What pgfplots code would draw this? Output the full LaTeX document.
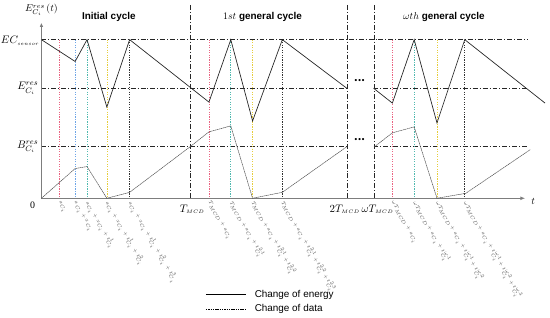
\documentclass[border=0pt]{standalone}
\usepackage{amsmath}
\usepackage{pgfplots}
\pgfplotsset{compat=1.18}
\usepackage{fontspec}
\setmainfont{Liberation Serif}
\newfontfamily\sans{Liberation Sans}
\usetikzlibrary{arrows.meta}
\definecolor{cred}{RGB}{235,100,130}
\definecolor{cblue}{RGB}{110,165,230}
\definecolor{cteal}{RGB}{80,185,175}
\definecolor{cyel}{RGB}{230,205,60}
\definecolor{axgray}{RGB}{125,125,125}
\tikzset{dd/.style={black!85, line width=0.5pt, dash pattern=on 5pt off 2pt on 1pt off 2pt},
  vd/.style={line width=0.6pt, dash pattern=on 1.2pt off 1.3pt},
  rl/.style={anchor=west, rotate=-60, inner sep=0.5pt, font=\fontsize{5.5}{6}\selectfont, text=black!70}}
\begin{document}
\begin{tikzpicture}
\begin{axis}[hide axis, scale only axis, width=550pt, height=320pt,
  xmin=0, xmax=550, ymin=0, ymax=320, y dir=reverse, clip=false]
\path (axis cs:0,0) rectangle (axis cs:550,320);
% reference lines
\addplot[dd] coordinates {(37,40) (528,40)};
\addplot[dd] coordinates {(37,89) (345,89)};
\addplot[dd] coordinates {(372,89) (528,89)};
\addplot[dd] coordinates {(37,148) (345,148)};
\addplot[dd] coordinates {(372,148) (528,148)};
\addplot[dd] coordinates {(187,5) (187,200)};
\addplot[dd] coordinates {(345,5) (345,200)};
\addplot[dd] coordinates {(373,5) (373,200)};
% coloured markers
\addplot[vd, cred] coordinates {(55,40) (55,200)};
\addplot[vd, cblue] coordinates {(71,40) (71,200)};
\addplot[vd, cteal] coordinates {(83,40) (83,200)};
\addplot[vd, cyel] coordinates {(103,40) (103,200)};
\addplot[vd, black!80] coordinates {(126,40) (126,200)};
\addplot[vd, cred] coordinates {(206,40) (206,200)};
\addplot[vd, cteal] coordinates {(228,40) (228,200)};
\addplot[vd, cyel] coordinates {(250,40) (250,200)};
\addplot[vd, black!80] coordinates {(280,40) (280,200)};
\addplot[vd, cred] coordinates {(391,40) (391,200)};
\addplot[vd, cteal] coordinates {(413,40) (413,200)};
\addplot[vd, cyel] coordinates {(436,40) (436,200)};
\addplot[vd, black!80] coordinates {(464,40) (464,200)};
% axes
\addplot[axgray, line width=1.3pt, -{Latex[length=4pt,width=3.5pt]}] coordinates {(37,200) (37,23)};
\addplot[axgray, line width=1.3pt, -{Latex[length=5pt,width=4pt]}] coordinates {(37,200) (525,200)};
% energy
\addplot[black!85, line width=0.7pt] coordinates {(37,40) (71,62) (83,40) (103,108) (126,40) (206,103) (228,40) (250,122) (280,40) (345,89)};
\addplot[black!85, line width=0.7pt] coordinates {(372,89) (391,104) (413,40) (436,124) (464,40) (545,104)};
% data
\addplot[black!70, line width=0.5pt, dash pattern=on 1.5pt off 0.5pt] coordinates {(37,200) (71,170) (83,168) (103,200) (126,194) (187,148) (206,133) (228,127) (250,200) (280,194) (345,148)};
\addplot[black!70, line width=0.5pt, dash pattern=on 1.5pt off 0.5pt] coordinates {(373,148) (391,134) (413,128) (436,200) (465,195) (530,151)};
% legend
\addplot[black, line width=0.7pt] coordinates {(203,297) (243,297)};
\addplot[black, line width=0.6pt, dash pattern=on 1.5pt off 0.8pt] coordinates {(203,312) (243,312)};
\node[anchor=west, inner sep=1pt, font=\sans\fontsize{10}{12}\selectfont] at (axis cs:251,297) {Change of energy};
\node[anchor=west, inner sep=1pt, font=\sans\fontsize{10}{12}\selectfont] at (axis cs:251,312) {Change of data};
% titles
\node[font=\sans\bfseries\fontsize{10}{12}\selectfont] at (axis cs:105,17) {Initial cycle};
\node[font=\sans\bfseries\fontsize{10}{12}\selectfont] at (axis cs:260,17) {$1st$ general cycle};
\node[font=\sans\bfseries\fontsize{10}{12}\selectfont] at (axis cs:443,17) {$\omega th$ general cycle};
% axis labels
\node[font=\fontsize{10}{12}\selectfont] at (axis cs:37,10) {$E^{res}_{C_i}\,(t)$};
\node[anchor=east, inner sep=1pt, font=\fontsize{11}{12}\selectfont] at (axis cs:36,41) {$EC_{\scriptscriptstyle sensor}$};
\node[anchor=east, inner sep=1pt, font=\fontsize{11}{12}\selectfont] at (axis cs:35,89) {$E^{res}_{C_i}$};
\node[anchor=east, inner sep=1pt, font=\fontsize{11}{12}\selectfont] at (axis cs:35,148) {$B^{res}_{C_i}$};
\node[font=\fontsize{10}{12}\selectfont] at (axis cs:28,207) {0};
\node[font=\fontsize{11}{12}\selectfont] at (axis cs:189,211) {$T_{\scriptscriptstyle MCD}$};
\node[font=\fontsize{11}{12}\selectfont] at (axis cs:343,211) {$2T_{\scriptscriptstyle MCD}$};
\node[font=\fontsize{11}{12}\selectfont] at (axis cs:376,211) {$\omega T_{\scriptscriptstyle MCD}$};
\node[font=\fontsize{10}{12}\selectfont] at (axis cs:533,203) {$t$};
% dots
\node[font=\fontsize{9}{10}\selectfont] at (axis cs:358,82) {\textbullet\kern0.5pt\textbullet\kern0.5pt\textbullet};
\node[font=\fontsize{9}{10}\selectfont] at (axis cs:358,142) {\textbullet\kern0.5pt\textbullet\kern0.5pt\textbullet};
% rotated tick labels
\node[rl] at (axis cs:54,203) {$a_{C_i}$};
\node[rl] at (axis cs:70,203) {$a_{C_i}+x_{C_i}$};
\node[rl] at (axis cs:82,203) {$a_{C_i}+x_{C_i}+t^{1}_{C_i}$};
\node[rl] at (axis cs:102,203) {$a_{C_i}+x_{C_i}+t^{1}_{C_i}+t^{2}_{C_i}$};
\node[rl] at (axis cs:125,203) {$a_{C_i}+x_{C_i}+t^{1}_{C_i}+t^{2}_{C_i}+t^{3}_{C_i}$};
\node[rl] at (axis cs:205,203) {$T_{MCD}+a_{C_i}$};
\node[rl] at (axis cs:227,203) {$T_{MCD}+a_{C_i}+t^{2\text{-}1}_{C_i}$};
\node[rl] at (axis cs:249,203) {$T_{MCD}+a_{C_i}+t^{2\text{-}1}_{C_i}+t^{2\text{-}2}_{C_i}$};
\node[rl] at (axis cs:279,203) {$T_{MCD}+a_{C_i}+t^{2\text{-}1}_{C_i}+t^{2\text{-}2}_{C_i}+t^{2\text{-}3}_{C_i}$};
\node[rl] at (axis cs:390,203) {$\omega T_{MCD}+a_{C_i}$};
\node[rl] at (axis cs:412,203) {$\omega T_{MCD}+a_{C_i}+t^{\omega\text{-}1}_{C_i}$};
\node[rl] at (axis cs:435,203) {$\omega T_{MCD}+a_{C_i}+t^{\omega\text{-}1}_{C_i}+t^{\omega\text{-}2}_{C_i}$};
\node[rl] at (axis cs:463,203) {$\omega T_{MCD}+a_{C_i}+t^{\omega\text{-}1}_{C_i}+t^{\omega\text{-}2}_{C_i}+t^{\omega\text{-}3}_{C_i}$};
\end{axis}
\end{tikzpicture}
\end{document}
